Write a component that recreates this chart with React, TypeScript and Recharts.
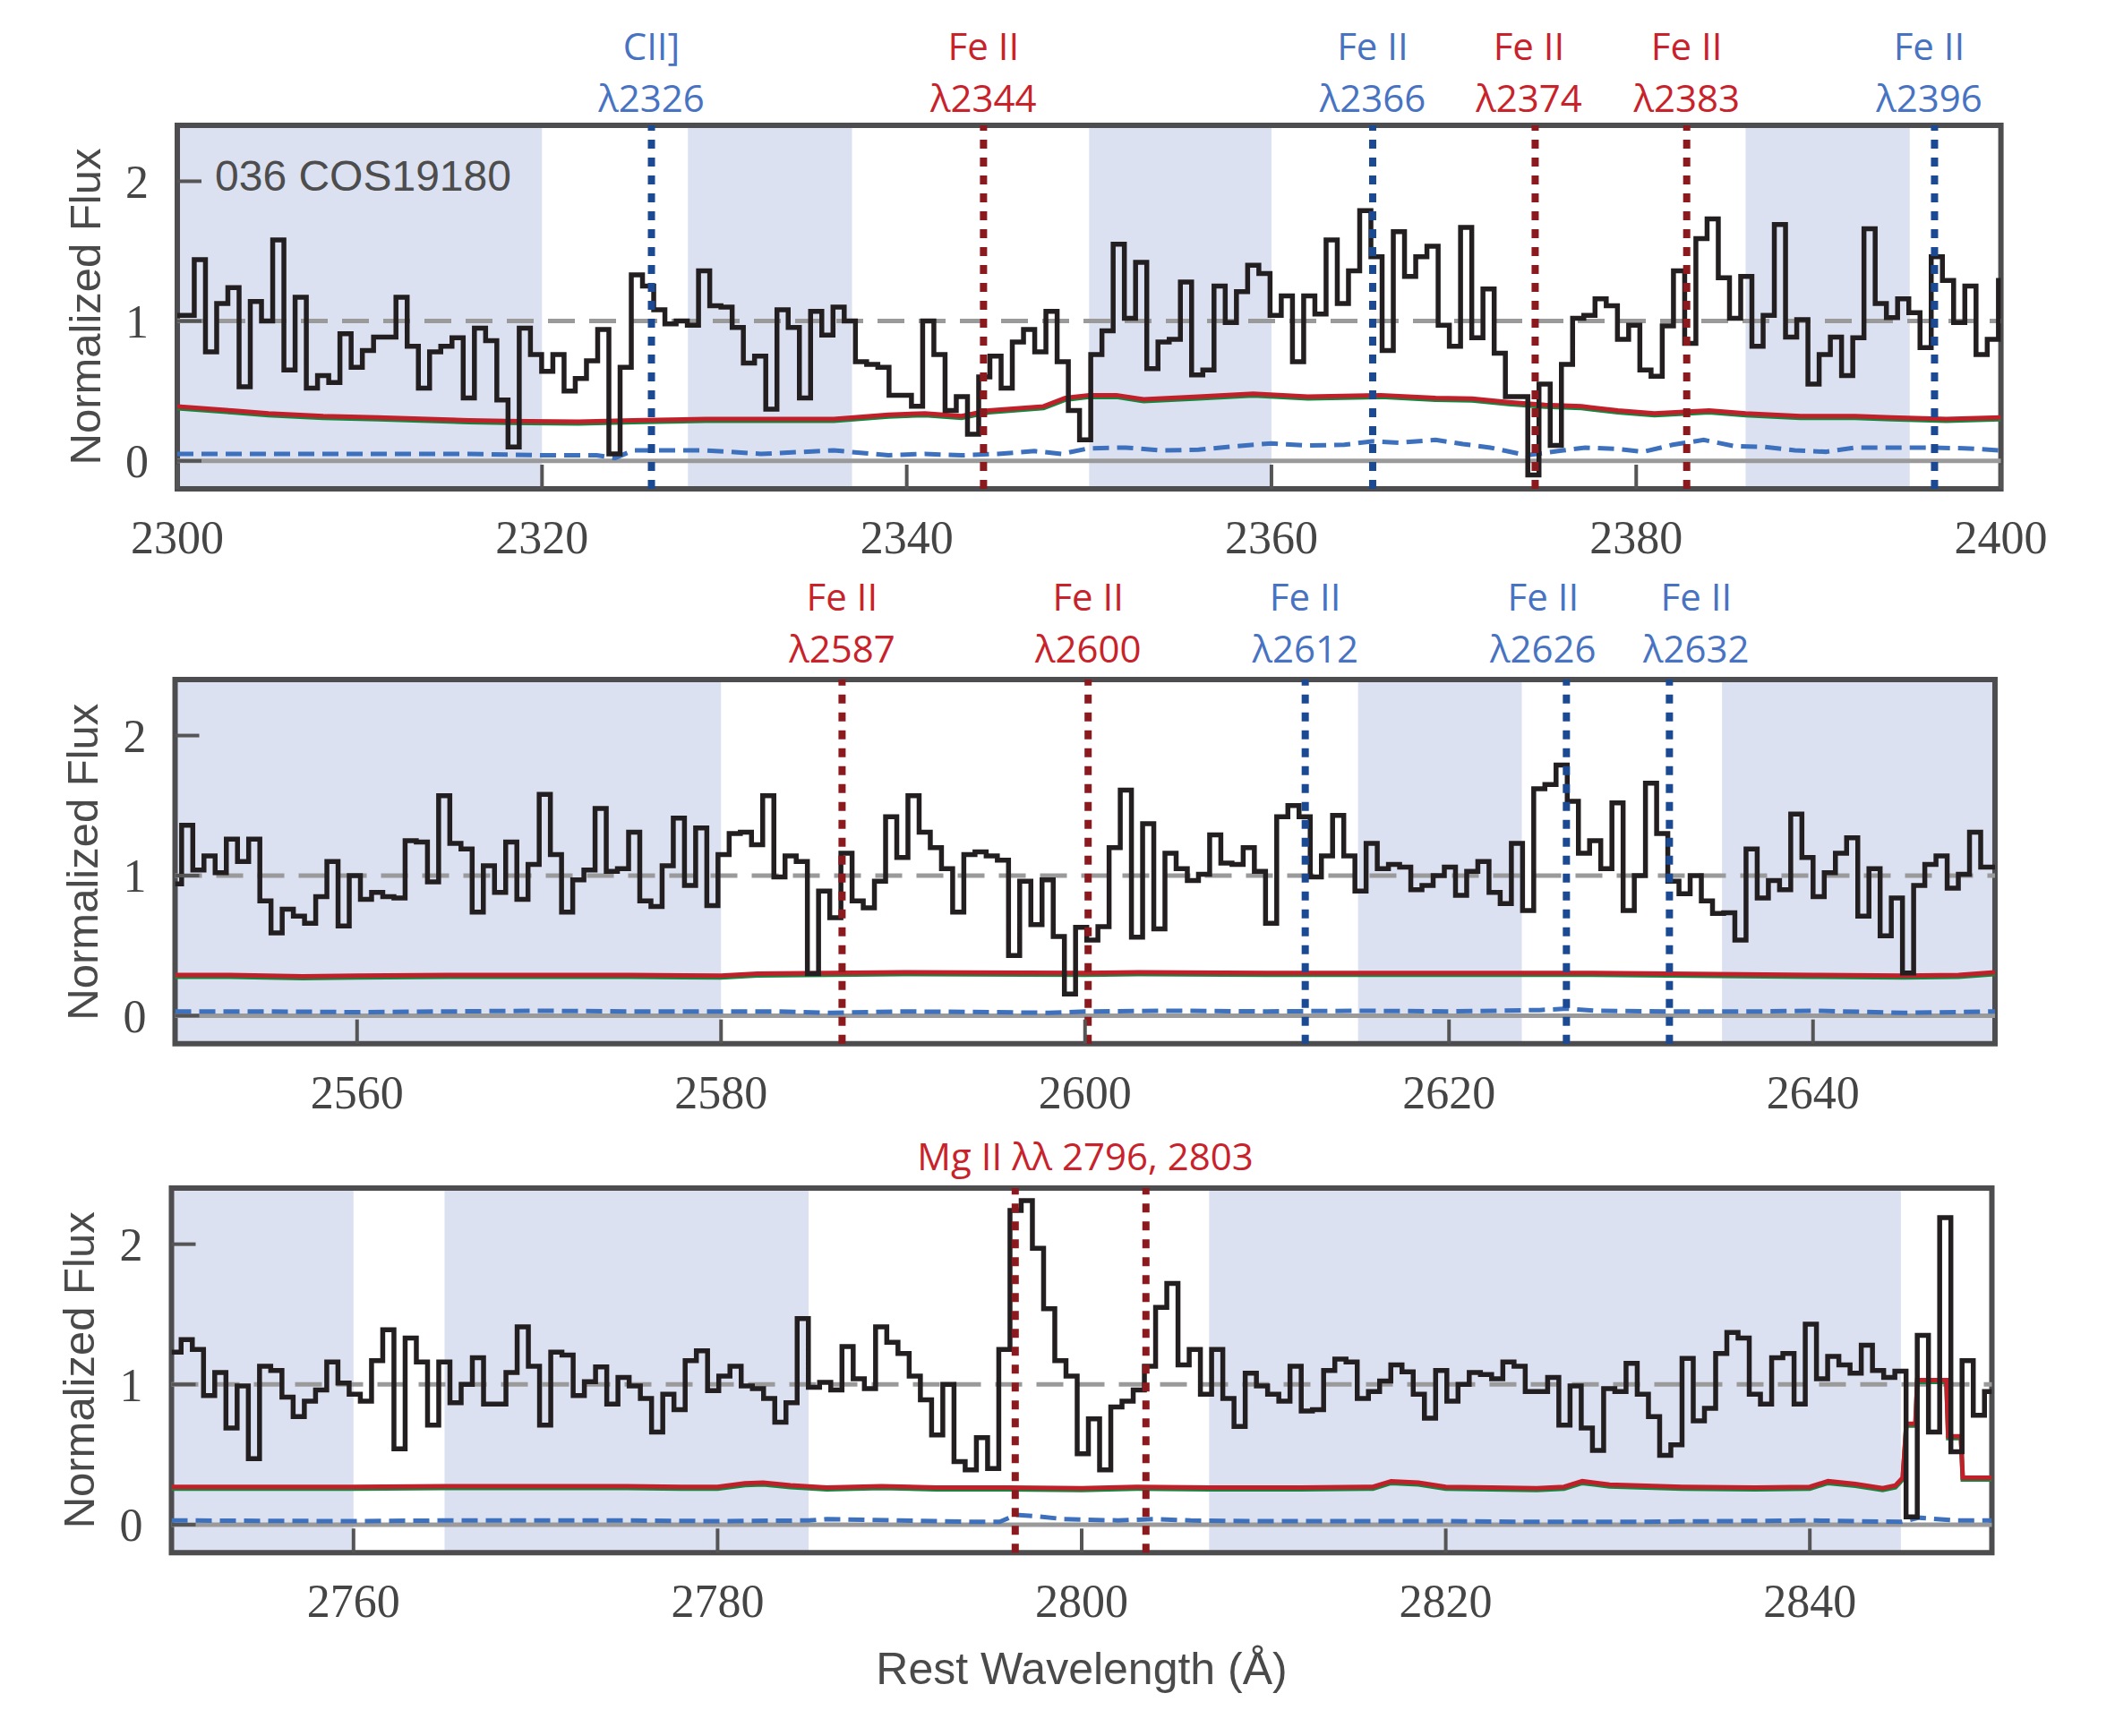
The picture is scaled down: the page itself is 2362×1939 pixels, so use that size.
import React from 'react';
import { LineChart, Line, XAxis, YAxis, ReferenceArea, ReferenceLine } from 'recharts';

// 036 COS19180 — normalized rest-frame spectrum in three windows

// flux per pixel, left to right (first value is the bin that touches the left edge)
const P1_FLUX = [
  1.04, 1.44, 0.78, 1.125, 1.24, 0.53, 1.14, 1.0, 1.58, 0.65,
  1.17, 0.52, 0.61, 0.56, 0.91, 0.67, 0.79, 0.885, 0.885, 1.17,
  0.82, 0.52, 0.78, 0.82, 0.88, 0.45, 0.95, 0.86, 0.435, 0.1,
  0.95, 0.76, 0.64, 0.76, 0.5, 0.59, 0.715, 0.94, 0.05, 0.67,
  1.33, 1.25, 1.08, 0.98, 1.0, 0.97, 1.36, 1.11, 1.1, 0.955,
  0.7, 0.75, 0.37, 1.08, 0.955, 0.45, 1.07, 0.9, 1.1, 1.0,
  0.71, 0.69, 0.67, 0.47, 0.47, 0.39, 1.0, 0.76, 0.36, 0.46,
  0.19, 0.6, 0.75, 0.52, 0.85, 0.94, 0.78, 1.07, 0.71, 0.36,
  0.15, 0.76, 0.93, 1.55, 1.02, 1.42, 0.66, 0.85, 0.87, 1.28,
  0.615, 0.65, 1.25, 0.99, 1.21, 1.4, 1.34, 1.04, 1.18, 0.71,
  1.18, 1.05, 1.58, 1.125, 1.36, 1.79, 1.46, 0.79, 1.64, 1.32,
  1.46, 1.535, 0.97, 0.82, 1.67, 0.88, 1.23, 0.77, 0.46, 0.46,
  -0.1, 0.55, 0.11, 0.69, 1.02, 1.04, 1.16, 1.11, 0.87, 0.97,
  0.65, 0.605, 0.965, 1.36, 0.84, 1.59, 1.73, 1.31, 1.02, 1.32,
  0.82, 1.04, 1.69, 0.885, 1.01, 0.55, 0.76, 0.885, 0.61, 0.88,
  1.66, 1.125, 1.025, 1.16, 1.06, 0.81, 1.46, 1.29, 0.99, 1.25,
  0.76, 0.87, 1.29,
];
const P2_FLUX = [
  0.94,
  1.36, 1.04, 1.14, 1.02, 1.26, 1.1, 1.26, 0.82, 0.59, 0.76,
  0.71, 0.66, 0.85, 1.1, 0.64, 1.0, 0.83, 0.88, 0.85, 0.84,
  1.25, 1.24, 0.955, 1.57, 1.23, 1.19, 0.74, 1.07, 0.88, 1.24,
  0.83, 1.08, 1.58, 1.15, 0.74, 0.97, 1.04, 1.48, 1.03, 1.05,
  1.31, 0.82, 0.78, 1.07, 1.41, 0.93, 1.34, 0.785, 1.15, 1.3,
  1.31, 1.22, 1.57, 0.99, 1.14, 1.1, 0.3, 0.89, 0.7, 1.16,
  0.82, 0.77, 0.96, 1.42, 1.13, 1.57, 1.31, 1.2, 1.05, 0.74,
  1.15, 1.17, 1.14, 1.11, 0.43, 0.96, 0.65, 0.97, 0.565, 0.155,
  0.63, 0.54, 0.635, 1.2, 1.61, 0.56, 1.37, 0.62, 1.16, 1.05,
  0.965, 1.01, 1.29, 1.09, 1.08, 1.2, 1.03, 0.66, 1.42, 1.5,
  1.42, 0.99, 1.14, 1.43, 1.14, 0.89, 1.23, 1.05, 1.08, 1.06,
  0.9, 0.93, 1.0, 1.06, 0.86, 1.03, 1.1, 0.88, 0.8, 1.23,
  0.75, 1.62, 1.65, 1.79, 1.53, 1.16, 1.25, 1.05, 1.52, 0.75,
  1.0, 1.66, 1.3, 0.96, 0.87, 1.0, 0.82, 0.73, 0.735, 0.54,
  1.19, 0.84, 0.965, 0.9, 1.44, 1.13, 0.85, 1.02, 1.16, 1.27,
  0.71, 1.05, 0.57, 0.84, 0.305, 0.93, 1.08, 1.14, 0.91, 1.01,
  1.31, 1.06,
];
const P3_FLUX = [
  1.23, 1.32, 1.25, 0.92, 1.085, 0.69, 0.99, 0.47, 1.13, 1.1,
  0.91, 0.77, 0.88, 0.96, 1.16, 1.01, 0.93, 0.88, 1.17, 1.39,
  0.54, 1.33, 1.16, 0.71, 1.16, 0.87, 1.0, 1.19, 0.86, 0.86,
  1.085, 1.41, 1.13, 0.71, 1.23, 1.21, 0.92, 1.02, 1.125, 0.86,
  1.05, 0.99, 0.9, 0.66, 0.93, 0.82, 1.17, 1.24, 0.955, 1.06,
  1.13, 0.99, 0.97, 0.9, 0.73, 0.87, 1.47, 0.98, 1.015, 0.96,
  1.27, 1.04, 0.97, 1.41, 1.3, 1.22, 1.06, 0.89, 0.64, 1.0,
  0.45, 0.39, 0.62, 0.4, 1.25, 2.24, 2.31, 1.97, 1.54, 1.17,
  1.06, 0.505, 0.755, 0.39, 0.84, 0.88, 0.96, 1.13, 1.55, 1.72,
  1.14, 1.25, 0.93, 1.25, 0.9, 0.7, 1.08, 0.99, 0.93, 0.88,
  1.13, 0.81, 0.82, 1.1, 1.18, 1.16, 0.9, 0.95, 1.025, 1.14,
  1.09, 0.93, 0.76, 1.1, 0.88, 1.0, 1.085, 1.07, 1.04, 1.16,
  1.13, 0.95, 0.95, 1.05, 0.71, 0.99, 0.69, 0.53, 0.97, 0.95,
  1.15, 0.93, 0.77, 0.495, 0.57, 1.185, 0.74, 0.83, 1.22, 1.37,
  1.33, 0.93, 0.86, 1.19, 1.22, 0.86, 1.43, 1.04, 1.2, 1.14,
  1.08, 1.28, 1.1, 1.05, 1.095, 0.055, 1.35, 0.66, 2.19, 0.52,
  1.17, 0.78, 0.95,
];

// pixel grid: start of the second bin and bin width, in Å
const P1_GRID = [2300.93, 0.6145];
const P2_GRID = [2550.36, 0.614];
const P3_GRID = [2750.53, 0.6153];

// error spectrum (red)
const P1_ERR_W = [2300, 2303, 2305, 2308, 2311, 2316, 2318, 2322, 2325, 2329, 2332, 2336, 2339, 2341, 2343, 2344.5, 2347.5, 2348.7, 2350, 2351.5, 2353, 2356, 2359, 2362, 2366, 2369, 2371, 2373, 2375, 2377, 2379, 2381, 2384, 2386, 2389, 2392, 2394, 2397, 2400];
const P1_ERR = [0.39, 0.36, 0.34, 0.32, 0.31, 0.29, 0.285, 0.28, 0.29, 0.3, 0.3, 0.3, 0.33, 0.34, 0.32, 0.36, 0.39, 0.45, 0.47, 0.47, 0.44, 0.46, 0.48, 0.46, 0.47, 0.45, 0.445, 0.42, 0.4, 0.39, 0.36, 0.34, 0.36, 0.34, 0.32, 0.32, 0.31, 0.3, 0.31];
const P2_ERR_W = [2550, 2553, 2557, 2560, 2565, 2570, 2575, 2580, 2582, 2586, 2590, 2600, 2603, 2610, 2620, 2627, 2632, 2640, 2645, 2648, 2650];
const P2_ERR = [0.29, 0.29, 0.28, 0.285, 0.29, 0.29, 0.29, 0.285, 0.3, 0.305, 0.31, 0.305, 0.31, 0.305, 0.305, 0.305, 0.3, 0.29, 0.285, 0.29, 0.31];
const P3_ERR_W = [2750, 2755, 2760, 2765, 2770, 2775, 2778, 2780, 2781.5, 2782.5, 2784, 2786, 2789, 2792, 2796, 2800, 2803, 2807, 2812, 2816, 2817, 2818.5, 2820, 2825, 2826.5, 2827.5, 2829, 2833, 2837, 2840, 2841, 2842.5, 2844, 2844.7, 2845.1, 2845.3, 2845.8, 2845.9, 2847.5, 2847.6, 2848.3, 2848.4, 2850];
const P3_ERR = [0.27, 0.27, 0.27, 0.275, 0.275, 0.275, 0.27, 0.27, 0.295, 0.3, 0.28, 0.265, 0.275, 0.265, 0.265, 0.26, 0.27, 0.265, 0.265, 0.27, 0.31, 0.3, 0.27, 0.26, 0.27, 0.31, 0.285, 0.27, 0.265, 0.27, 0.31, 0.29, 0.26, 0.28, 0.335, 0.72, 0.72, 1.03, 1.03, 0.63, 0.63, 0.335, 0.335];

// noise (blue dashed)
const P1_NOISE_W = [2300, 2304, 2308, 2312, 2316, 2320, 2323, 2324, 2325, 2329, 2332, 2336, 2339, 2341, 2343, 2345, 2347, 2348.5, 2350, 2352, 2354, 2356, 2358, 2360, 2362, 2364, 2365.5, 2367, 2369, 2370.5, 2372, 2374, 2376, 2377.2, 2379, 2380.4, 2382, 2383.7, 2385.4, 2387, 2388.7, 2390.4, 2392, 2394, 2396, 2398, 2400];
const P1_NOISE = [0.05, 0.05, 0.05, 0.05, 0.05, 0.04, 0.04, 0.02, 0.075, 0.075, 0.05, 0.075, 0.04, 0.05, 0.04, 0.05, 0.07, 0.05, 0.09, 0.095, 0.075, 0.08, 0.105, 0.125, 0.11, 0.115, 0.14, 0.13, 0.15, 0.12, 0.095, 0.04, 0.075, 0.095, 0.085, 0.065, 0.115, 0.15, 0.105, 0.1, 0.075, 0.065, 0.095, 0.095, 0.095, 0.09, 0.075];
const P2_NOISE_W = [2550, 2555, 2560, 2565, 2570, 2575, 2580, 2583, 2586, 2590, 2595, 2598, 2600, 2605, 2610, 2615, 2620, 2625, 2626.5, 2628, 2632, 2637, 2640, 2645, 2650];
const P2_NOISE = [0.03, 0.03, 0.025, 0.03, 0.035, 0.03, 0.03, 0.03, 0.02, 0.03, 0.025, 0.02, 0.03, 0.035, 0.03, 0.035, 0.03, 0.04, 0.05, 0.035, 0.03, 0.03, 0.035, 0.02, 0.03];
const P3_NOISE_W = [2750, 2760, 2765, 2770, 2775, 2780, 2785, 2786, 2790, 2794, 2795.5, 2796.4, 2797.5, 2799, 2802, 2804, 2806, 2810, 2815, 2820, 2825, 2830, 2835, 2840, 2845, 2846, 2847, 2848, 2850];
const P3_NOISE = [0.03, 0.025, 0.03, 0.03, 0.03, 0.025, 0.03, 0.04, 0.03, 0.02, 0.02, 0.07, 0.06, 0.04, 0.03, 0.04, 0.03, 0.025, 0.025, 0.025, 0.02, 0.02, 0.025, 0.03, 0.02, 0.05, 0.04, 0.03, 0.03];

// shaded windows
const P1_SHADE = [[2300, 2320], [2328, 2337], [2350, 2360], [2386, 2395]];
const P2_SHADE = [[2550, 2580], [2615, 2624], [2635, 2650]];
const P3_SHADE = [[2750, 2760], [2765, 2785], [2807, 2845]];

// line markers
const P1_LINE_W = [2326.0, 2344.21, 2365.55, 2374.46, 2382.77, 2396.36];
const P1_LINE_ION = ['CII]', 'Fe II', 'Fe II', 'Fe II', 'Fe II', 'Fe II'];
const P1_LINE_TAG = ['λ2326', 'λ2344', 'λ2366', 'λ2374', 'λ2383', 'λ2396'];
const P1_LINE_KIND = ['blue', 'red', 'blue', 'red', 'red', 'blue'];
const P2_LINE_W = [2586.65, 2600.17, 2612.1, 2626.45, 2632.11];
const P2_LINE_ION = ['Fe II', 'Fe II', 'Fe II', 'Fe II', 'Fe II'];
const P2_LINE_TAG = ['λ2587', 'λ2600', 'λ2612', 'λ2626', 'λ2632'];
const P2_LINE_KIND = ['red', 'red', 'blue', 'blue', 'blue'];
const P3_LINE_W = [2796.35, 2803.53];
const P3_LINE_KIND = ['red', 'red'];
const P3_TITLE = 'Mg II λλ 2796, 2803';
const P3_TITLE_W = 2800.2;

const Y_TICKS = [0, 1, 2];
const P1_TICKS = [2300, 2320, 2340, 2360, 2380, 2400];
const P2_TICKS = [2560, 2580, 2600, 2620, 2640];
const P3_TICKS = [2760, 2780, 2800, 2820, 2840];

const W = 2362;
const H = 1939;
const TOP_PAD = 140;
const BOTTOM_PAD = 110;
const YAXIS_W = 100;
const TICK_LEN = 27;

const LINE_COLOR: Record<string, string> = { red: '#8b1a1f', blue: '#1c4a92' };
const TAG_COLOR: Record<string, string> = { red: '#c8222a', blue: '#4873c2' };

const tickFont = { fontFamily: "'Liberation Serif', serif", fontSize: 52, fill: '#454545' };
const tagFont = { fontFamily: "'Open Sans', sans-serif", fontSize: 42 };
const sansFont = "'Liberation Sans', sans-serif";

function stepRows(flux: number[], grid: number[], lo: number, hi: number) {
  const rows = flux.map((f, i) => ({ w: i === 0 ? lo : grid[0] + (i - 1) * grid[1], f }));
  rows.push({ w: hi, f: flux[flux.length - 1] });
  return rows;
}

function pairRows(ws: number[], vs: number[]) {
  return ws.map((w, i) => ({ w, v: vs[i] }));
}

function Tag(props: any) {
  const { viewBox, ion, rest, color, ionDy, restDy, nudge = 0 } = props;
  if (!viewBox) return null;
  const x = viewBox.x + (viewBox.width || 0) / 2 + nudge;
  const y = viewBox.y;
  return (
    <g>
      {ion && (
        <text x={x} y={y + ionDy} textAnchor="middle" fill={color} style={tagFont}>{ion}</text>
      )}
      <text x={x} y={y + restDy} textAnchor="middle" fill={color} style={tagFont}>{rest}</text>
    </g>
  );
}

interface PanelSpec {
  lo: number; hi: number;
  left: number; right: number; top: number; bottom: number;
  ticks: number[];
  flux: number[]; grid: number[];
  errW: number[]; err: number[];
  noiseW: number[]; noise: number[];
  shade: number[][];
  lineW: number[]; lineKind: string[]; lineIon?: string[]; lineTag?: string[]; nudge?: number[];
  ionDy: number; restDy: number;
  title?: string; titleW?: number;
}

const PANELS: PanelSpec[] = [
  {
    lo: 2300, hi: 2400, left: 198, right: 2234.6, top: 139.5, bottom: 545.5, ticks: P1_TICKS,
    flux: P1_FLUX, grid: P1_GRID, errW: P1_ERR_W, err: P1_ERR, noiseW: P1_NOISE_W, noise: P1_NOISE,
    shade: P1_SHADE, lineW: P1_LINE_W, lineKind: P1_LINE_KIND, lineIon: P1_LINE_ION, lineTag: P1_LINE_TAG,
    nudge: [0, 0, 0, -7, 0, -6],
    ionDy: -73, restDy: -15,
  },
  {
    lo: 2550, hi: 2650, left: 195.5, right: 2228, top: 759.3, bottom: 1166, ticks: P2_TICKS,
    flux: P2_FLUX, grid: P2_GRID, errW: P2_ERR_W, err: P2_ERR, noiseW: P2_NOISE_W, noise: P2_NOISE,
    shade: P2_SHADE, lineW: P2_LINE_W, lineKind: P2_LINE_KIND, lineIon: P2_LINE_ION, lineTag: P2_LINE_TAG,
    nudge: [0, 0, 0, -26, 30],
    ionDy: -77, restDy: -19,
  },
  {
    lo: 2750, hi: 2850, left: 191.5, right: 2224.5, top: 1326.7, bottom: 1734, ticks: P3_TICKS,
    flux: P3_FLUX, grid: P3_GRID, errW: P3_ERR_W, err: P3_ERR, noiseW: P3_NOISE_W, noise: P3_NOISE,
    shade: P3_SHADE, lineW: P3_LINE_W, lineKind: P3_LINE_KIND,
    ionDy: -77, restDy: -20, title: P3_TITLE, titleW: P3_TITLE_W,
  },
];

function SpecPanel({ p }: { p: PanelSpec }) {
  const flux = stepRows(p.flux, p.grid, p.lo, p.hi);
  const err = pairRows(p.errW, p.err);
  const noise = pairRows(p.noiseW, p.noise);
  const height = p.bottom - p.top + TOP_PAD + BOTTOM_PAD;
  const xAxisH = 90;

  return (
    <div style={{ position: 'absolute', left: 0, top: p.top - TOP_PAD }}>
      <LineChart
        width={W}
        height={height}
        margin={{ top: TOP_PAD, right: W - p.right, bottom: BOTTOM_PAD - xAxisH, left: p.left - YAXIS_W }}
      >
        {p.shade.map(([a, b]) => (
          <ReferenceArea key={a} x1={a} x2={b} fill="#dbe1f1" fillOpacity={1} stroke="none" />
        ))}
        <ReferenceLine y={0} stroke="#9a9a9a" strokeWidth={5} />
        <ReferenceLine y={1} stroke="#9a9a9a" strokeWidth={5} strokeDasharray="30 16" />

        <Line data={noise} dataKey="v" type="linear" stroke="#3d70bd" strokeWidth={5}
          strokeDasharray="18 9" dot={false} activeDot={false} isAnimationActive={false} />
        <Line data={err} dataKey="v" type="linear" stroke="#17843d" strokeWidth={5}
          className="err-shadow" dot={false} activeDot={false} isAnimationActive={false} />
        <Line data={err} dataKey="v" type="linear" stroke="#c0202a" strokeWidth={5}
          dot={false} activeDot={false} isAnimationActive={false} />
        <Line data={flux} dataKey="f" type="stepAfter" stroke="#231f20" strokeWidth={5.5}
          dot={false} activeDot={false} isAnimationActive={false} />

        {p.lineW.map((w, i) => (
          <ReferenceLine
            key={w}
            x={w}
            stroke={LINE_COLOR[p.lineKind[i]]}
            strokeWidth={8}
            strokeDasharray="10 10"
            label={p.lineTag ? (
              <Tag ion={p.lineIon?.[i]} rest={p.lineTag[i]} color={TAG_COLOR[p.lineKind[i]]}
                ionDy={p.ionDy} restDy={p.restDy} nudge={p.nudge?.[i] ?? 0} />
            ) : undefined}
          />
        ))}
        {p.title && (
          <ReferenceLine
            x={p.titleW}
            stroke="none"
            strokeOpacity={0}
            label={<Tag rest={p.title} color={TAG_COLOR.red} ionDy={p.ionDy} restDy={p.restDy} />}
          />
        )}

        <ReferenceArea x1={p.lo} x2={p.hi} y1={-0.2} y2={2.4} fill="none" stroke="#4d4d4f" strokeWidth={6} />

        <XAxis
          type="number"
          dataKey="w"
          domain={[p.lo, p.hi]}
          allowDataOverflow
          ticks={p.ticks}
          interval={0}
          height={xAxisH}
          axisLine={false}
          tickSize={-TICK_LEN}
          tickMargin={TICK_LEN + 35}
          tickLine={{ stroke: '#555', strokeWidth: 4 }}
          tick={tickFont}
        />
        <YAxis
          type="number"
          domain={[-0.2, 2.4]}
          allowDataOverflow
          ticks={Y_TICKS}
          interval={0}
          width={YAXIS_W}
          axisLine={false}
          tickSize={-TICK_LEN}
          tickMargin={TICK_LEN + 32}
          tickLine={{ stroke: '#555', strokeWidth: 4 }}
          tick={tickFont}
        />
      </LineChart>
    </div>
  );
}

export default function App() {
  const last = PANELS[PANELS.length - 1];
  return (
    <div style={{ position: 'absolute', left: 0, top: 0, width: W, height: H, background: '#fff', overflow: 'hidden' }}>
      <style>{`.err-shadow path { transform: translateY(2px); }`}</style>
      {PANELS.map((p, i) => <SpecPanel key={i} p={p} />)}
      <svg width={W} height={H} style={{ position: 'absolute', left: 0, top: 0, pointerEvents: 'none' }}>
        {PANELS.map((p, i) => {
          const cy = (p.top + p.bottom) / 2;
          const x = p.left - 86;
          return (
            <text key={i} x={x} y={cy} textAnchor="middle" transform={`rotate(-90 ${x} ${cy})`}
              style={{ fontFamily: sansFont, fontSize: 49, fill: '#4a4a4a' }}>
              Normalized Flux
            </text>
          );
        })}
        <text x={240} y={213} style={{ fontFamily: sansFont, fontSize: 48, fill: '#4d4d4d' }}>
          036 COS19180
        </text>
        <text x={(last.left + last.right) / 2} y={1881} textAnchor="middle"
          style={{ fontFamily: sansFont, fontSize: 50, fill: '#4a4a4a' }}>
          Rest Wavelength (Å)
        </text>
      </svg>
    </div>
  );
}
